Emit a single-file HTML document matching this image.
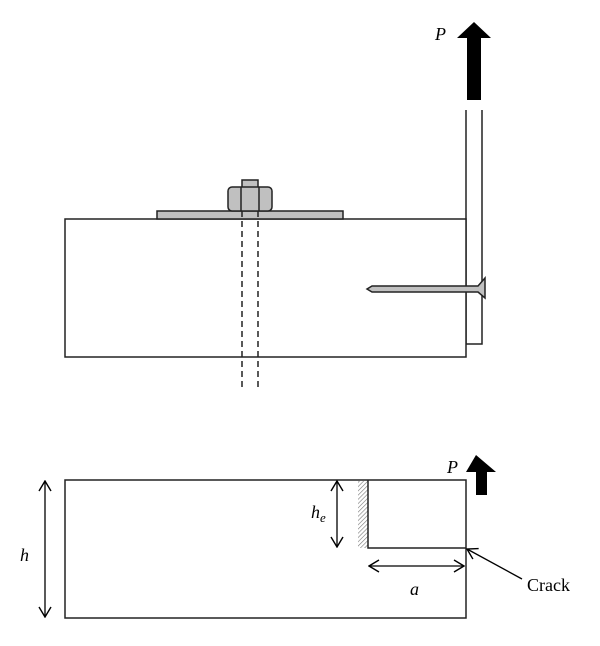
<!DOCTYPE html>
<html><head><style>body{margin:0;background:#fff}</style></head><body>
<svg width="600" height="641" viewBox="0 0 600 641" xmlns="http://www.w3.org/2000/svg" font-family="Liberation Serif, serif">
<defs>
<pattern id="hatch" width="3" height="3" patternUnits="userSpaceOnUse" patternTransform="rotate(45)"><line x1="0" y1="0" x2="0" y2="3" stroke="#777" stroke-width="1.2"/></pattern>
<marker id="ah" markerWidth="12" markerHeight="14" refX="11" refY="7" orient="auto-start-reverse" markerUnits="userSpaceOnUse"><path d="M1,1 L11,7 L1,13" fill="none" stroke="#000" stroke-width="1.4"/></marker>
</defs>
<g stroke="#222" stroke-width="1.5" fill="none">
<polygon points="474,22 491,38 481,38 481,100 467,100 467,38 457,38" fill="#000" stroke="none"/>
<polyline points="466,110 466,344 482,344 482,110"/>
<rect x="65" y="219" width="401" height="138" fill="#fff"/>
<rect x="157" y="211" width="186" height="8" fill="#c0c0c0"/>
<rect x="242" y="180" width="16" height="8" fill="#c0c0c0"/>
<rect x="228" y="187" width="44" height="24" rx="4" fill="#c0c0c0"/>
<line x1="241" y1="187" x2="241" y2="211"/><line x1="259" y1="187" x2="259" y2="211"/>
<line x1="242" y1="211" x2="242" y2="388" stroke-dasharray="6,4"/>
<line x1="258" y1="211" x2="258" y2="388" stroke-dasharray="6,4"/>
<polygon points="367,289 372,286 478,286 485,278 485,298 478,292 372,292" fill="#c0c0c0"/>
<polygon points="476,455 496,472 487,472 487,495 476,495 476,472 466,472" fill="#000" stroke="none"/>
<rect x="358" y="481" width="10" height="67" fill="url(#hatch)" stroke="none"/>
<polyline points="368,480 368,548 466,548"/>
<rect x="65" y="480" width="401" height="138"/>
<line x1="45" y1="481" x2="45" y2="617" stroke="#000" stroke-width="1.3" marker-start="url(#ah)" marker-end="url(#ah)"/>
<line x1="337" y1="481" x2="337" y2="547" stroke="#000" stroke-width="1.3" marker-start="url(#ah)" marker-end="url(#ah)"/>
<line x1="369" y1="566" x2="464" y2="566" stroke="#000" stroke-width="1.3" marker-start="url(#ah)" marker-end="url(#ah)"/>
<line x1="522" y1="579" x2="467" y2="549" stroke="#000" stroke-width="1.3" marker-end="url(#ah)"/>
</g>
<g font-size="18" fill="#000">
<text x="435" y="40" font-style="italic">P</text>
<text x="447" y="473" font-style="italic">P</text>
<text x="20" y="561" font-style="italic">h</text>
<text x="311" y="518" font-style="italic">h<tspan font-size="13" dy="4">e</tspan></text>
<text x="410" y="595" font-style="italic">a</text>
<text x="527" y="591">Crack</text>
</g>
</svg>
</body></html>
